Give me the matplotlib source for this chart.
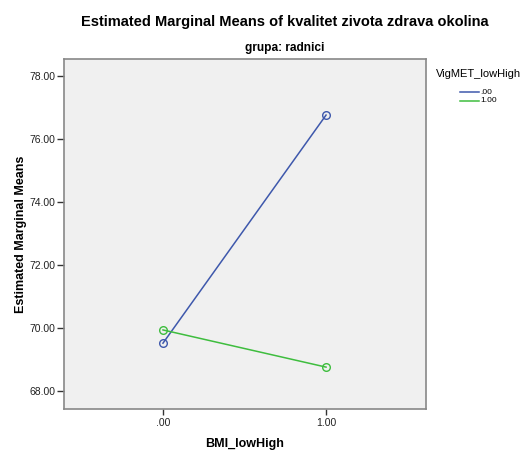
import matplotlib
matplotlib.use("Agg")
import matplotlib.pyplot as plt
from matplotlib.lines import Line2D

plt.rcParams['font.family'] = ['Liberation Sans', 'DejaVu Sans']

# Estimated marginal means by BMI group, one series per VigMET group
bmi_levels = [0.0, 1.0]
bmi_labels = [".00", "1.00"]
vig_labels = [".00", "1.00"]
means_vig0 = [69.53, 76.77]
means_vig1 = [69.95, 68.77]
y_ticks = [68.0, 70.0, 72.0, 74.0, 76.0, 78.0]

colors = ["#3e58ac", "#3ebd3e"]

fig = plt.figure(figsize=(5.26, 4.5), dpi=100)
ax = fig.add_axes([64/526, 1-408.7/450, (426-64)/526, (408.7-59)/450])
ax.set_facecolor("#f0f0f0")

for vals, c in zip([means_vig0, means_vig1], colors):
    ax.plot(bmi_levels, vals, color=c, lw=1.1, marker="o", ms=5.5,
            mfc="none", mec=c, mew=1.0)

ax.set_xlim(-0.607, 1.613)
ax.set_ylim(67.45, 78.55)
ax.set_xticks(bmi_levels)
ax.set_xticklabels(bmi_labels)
ax.set_yticks(y_ticks)
ax.set_yticklabels([f"{v:.2f}" for v in y_ticks])
ax.tick_params(axis="y", direction="out", length=5, width=1, color="#333333",
               labelsize=7.5, labelcolor="#222222", pad=1)
ax.tick_params(axis="x", direction="out", length=4, width=1, color="#333333",
               labelsize=7.5, labelcolor="#222222", pad=3)
for s in ax.spines.values():
    s.set_color("#888888")
    s.set_linewidth(1.2)

ax.set_ylabel("Estimated Marginal Means", fontsize=9, fontweight="bold", labelpad=2)
ax.set_xlabel("BMI_lowHigh", fontsize=9, fontweight="bold", labelpad=7)

fig.text(285/526, 1 - 22/450, "Estimated Marginal Means of kvalitet zivota zdrava okolina",
         ha="center", va="center", fontsize=10.5, fontweight="bold")
fig.text(284.5/526, 1 - 48/450, "grupa: radnici",
         ha="center", va="center", fontsize=8.6, fontweight="bold")

# Legend placed to the right of the plot area
fig.text(436/526, 1 - 74/450, "VigMET_lowHigh", ha="left", va="center", fontsize=8)
for i, (lab, c) in enumerate(zip(vig_labels, colors)):
    y = 1 - (92.3 + i * 8.4) / 450
    fig.add_artist(Line2D([460/526, 479/526], [y, y], color=c, lw=1.1,
                          transform=fig.transFigure))
    fig.text(480/526, y, lab, ha="left", va="center", fontsize=6)

fig.savefig("out.png", dpi=100)
